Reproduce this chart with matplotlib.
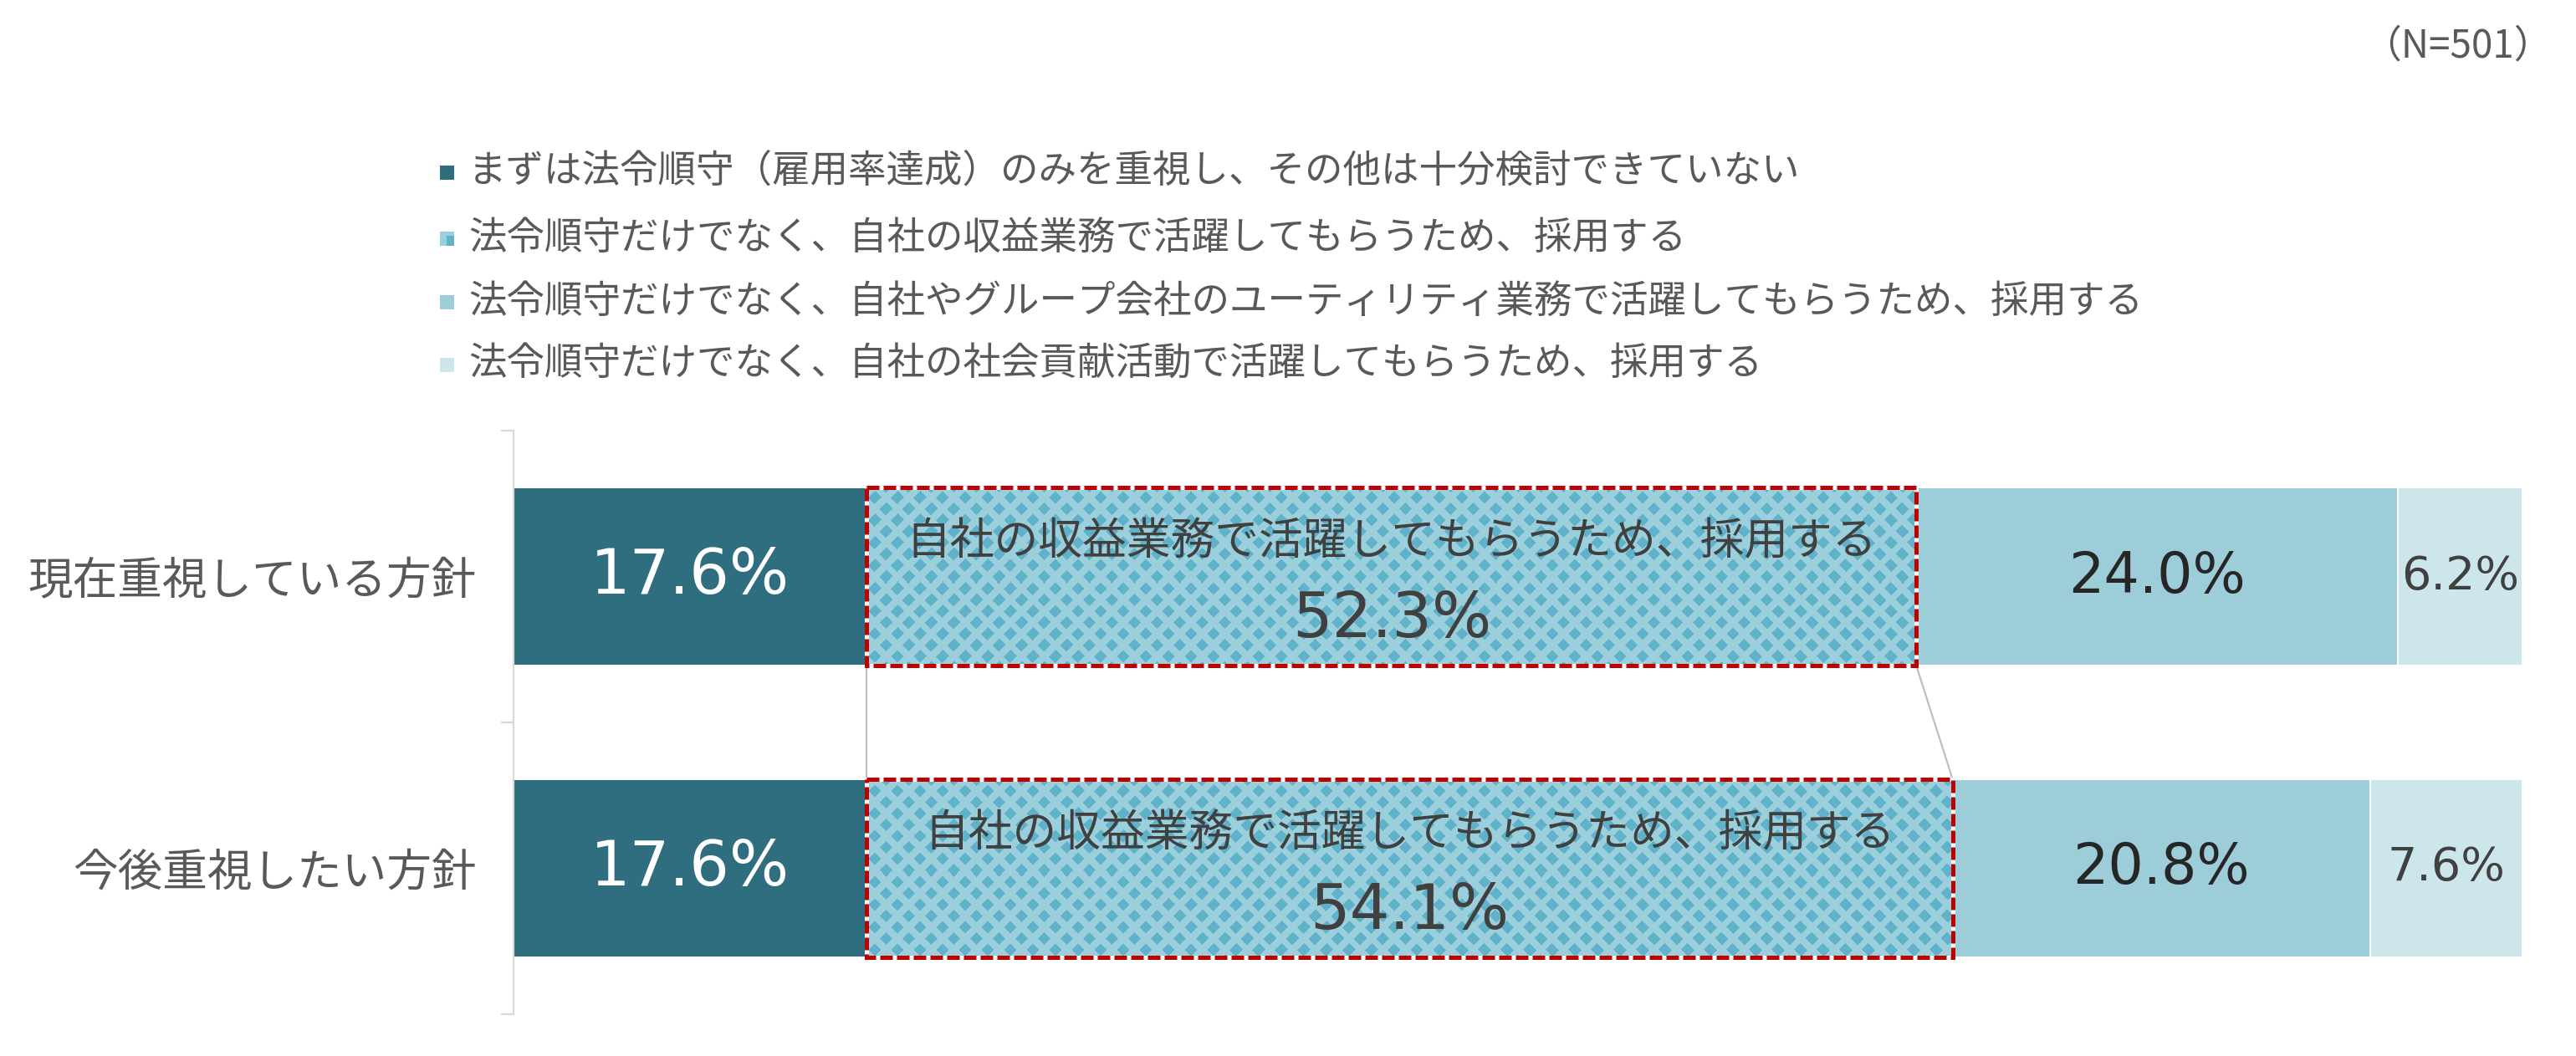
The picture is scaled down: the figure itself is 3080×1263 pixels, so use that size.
import numpy as np
import matplotlib
matplotlib.use("Agg")
import matplotlib.pyplot as plt
from matplotlib.patches import Rectangle

plt.rcParams['font.family'] = ['Noto Sans CJK JP', 'DejaVu Sans']

# ---------------- data ----------------
categories = ['現在重視している方針', '今後重視したい方針']
series_names = [
    'まずは法令順守（雇用率達成）のみを重視し、その他は十分検討できていない',
    '法令順守だけでなく、自社の収益業務で活躍してもらうため、採用する',
    '法令順守だけでなく、自社やグループ会社のユーティリティ業務で活躍してもらうため、採用する',
    '法令順守だけでなく、自社の社会貢献活動で活躍してもらうため、採用する',
]
s1 = [17.6, 17.6]
s2 = [52.3, 54.1]
s3 = [24.0, 20.8]
s4 = [6.2, 7.6]
highlight_label = '自社の収益業務で活躍してもらうため、採用する'
n_label = '（N=501）'

# ---------------- style ----------------
c_dark = '#2E6E7E'
c_pat_light = '#9BCFDC'
c_pat_dark = '#5FB2CA'
c_mid = '#9DCDD8'
c_light = '#CDE6EB'
txt_gray = '#595959'
txt_dark = '#404040'

W, H = 3080, 1263
DPI = 200
fig = plt.figure(figsize=(W / DPI, H / DPI), dpi=DPI)

ax_l, ax_r, ax_t, ax_b = 614, 3016, 515, 1213
ax = fig.add_axes([ax_l / W, 1 - ax_b / H, (ax_r - ax_l) / W, (ax_b - ax_t) / H])
total = max(np.array(s1) + np.array(s2) + np.array(s3) + np.array(s4))
ax.set_xlim(0, total)
ax.set_ylim(len(categories) - 0.5, -0.5)

bh = 0.613
y = np.arange(len(categories))
series = [s1, s2, s3, s4]
colors = [c_dark, c_pat_light, c_mid, c_light]
lefts = np.zeros(len(categories))
bar_containers = []
for vals, col in zip(series, colors):
    bc = ax.barh(y, vals, left=lefts, height=bh, color=col, edgecolor='white',
                 linewidth=0.7, zorder=2)
    bar_containers.append(bc)
    lefts = lefts + np.array(vals)

# ---- diamond pattern for series 2 ----
pw, ph = ax_r - ax_l, ax_b - ax_t
xx, yy = np.meshgrid(np.arange(pw) + 0.5, np.arange(ph) + 0.5)
period = 27.0
p = (xx + yy) / period
q = (xx - yy) / period
dp = np.abs(p - np.round(p)) * period
dq = np.abs(q - np.round(q)) * period
dark = np.maximum(dp, dq) < 8.0
img = np.zeros((ph, pw, 3))
cl = np.array(matplotlib.colors.to_rgb(c_pat_light))
cd = np.array(matplotlib.colors.to_rgb(c_pat_dark))
img[:] = cl
img[dark] = cd
for patch in bar_containers[1].patches:
    im = ax.imshow(img, extent=(0, total, len(categories) - 0.5, -0.5),
                   origin='upper', aspect='auto', interpolation='nearest', zorder=3)
    im.set_clip_path(patch)
    x0, y0 = patch.get_x(), patch.get_y()
    w, h = patch.get_width(), patch.get_height()
    ax.add_patch(Rectangle((x0, y0), w, h, fill=False, edgecolor='white',
                           linewidth=1.8, zorder=5, clip_on=False))
    ax.add_patch(Rectangle((x0, y0), w, h, fill=False, edgecolor='#C00000',
                           linewidth=1.8, linestyle=(0, (3, 1)), zorder=6,
                           clip_on=False))
ax.set_xlim(0, total)
ax.set_ylim(len(categories) - 0.5, -0.5)

# ---- series lines between rows ----
cum1 = np.array(s1)
cum2 = np.array(s1) + np.array(s2)
for cum in (cum1, cum2):
    ax.plot([cum[0], cum[1]], [0 + bh / 2, 1 - bh / 2], color='#BFBFBF',
            linewidth=0.8, zorder=1, solid_capstyle='butt')

# ---- value labels ----
lefts = np.zeros(len(categories))
for k, vals in enumerate(series):
    for i, v in enumerate(vals):
        cx = lefts[i] + v / 2
        if k == 0:
            ax.text(cx, y[i], f'{v:.1f}%', ha='center', va='center', fontsize=27,
                    color='white', family='DejaVu Sans', zorder=7)
        elif k == 1:
            ax.text(cx, y[i] - 0.12, highlight_label, ha='center', va='center',
                    fontsize=19, color=txt_dark, zorder=7)
            ax.text(cx, y[i] + 0.15, f'{v:.1f}%', ha='center', va='center',
                    fontsize=27, color=txt_dark, family='DejaVu Sans', zorder=7)
        elif k == 2:
            ax.text(cx, y[i], f'{v:.1f}%', ha='center', va='center', fontsize=24,
                    color='#262626', family='DejaVu Sans', zorder=7)
        else:
            ax.text(cx, y[i], f'{v:.1f}%', ha='center', va='center', fontsize=20,
                    color=txt_dark, family='DejaVu Sans', zorder=7)
    lefts = lefts + np.array(vals)

# ---- axes styling ----
for s in ['top', 'right', 'bottom']:
    ax.spines[s].set_visible(False)
ax.spines['left'].set_color('#D9D9D9')
ax.spines['left'].set_linewidth(0.8)
ax.set_xticks([])
ax.set_yticks(y)
ax.set_yticklabels(categories, fontsize=19.3, color=txt_gray)
ax.tick_params(axis='y', which='major', length=0, pad=16)
ax.set_yticks([-0.5, 0.5, 1.5], minor=True)
ax.tick_params(axis='y', which='minor', length=5.4, width=0.8, color='#D9D9D9')

# ---- legend (manual) ----
leg_y = [206, 285, 361, 436]
sq = 17
for i, (name, col) in enumerate(zip(series_names, colors)):
    yc = leg_y[i]
    if i == 1:
        fig.add_artist(Rectangle(((534 - sq / 2) / W, 1 - (yc + sq / 2) / H), sq / W, sq / H,
                                 transform=fig.transFigure, facecolor=c_pat_light,
                                 edgecolor='none'))
        fig.add_artist(Rectangle(((534) / W, 1 - (yc + sq / 2) / H), (sq / 2) / W, (sq * 0.7) / H,
                                 transform=fig.transFigure, facecolor=c_pat_dark,
                                 edgecolor='none'))
    else:
        fig.add_artist(Rectangle(((534 - sq / 2) / W, 1 - (yc + sq / 2) / H), sq / W, sq / H,
                                 transform=fig.transFigure, facecolor=col,
                                 edgecolor='none'))
    fig.text(560 / W, 1 - yc / H, name, ha='left', va='center', fontsize=16.4,
             color=txt_gray)

fig.text(3052 / W, 1 - 55 / H, n_label, ha='right', va='center', fontsize=16.5,
         color=txt_gray)

fig.savefig('out.png', dpi=DPI, facecolor='white')
